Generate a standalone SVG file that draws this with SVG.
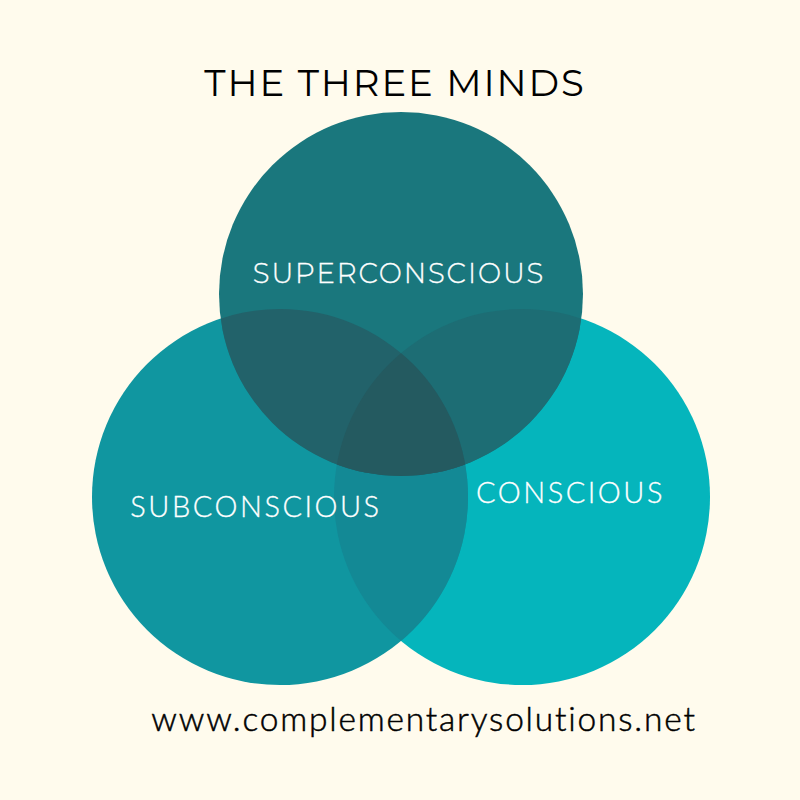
<svg xmlns="http://www.w3.org/2000/svg" width="800" height="800" viewBox="0 0 800 800">
<style>
text{text-anchor:middle}
.m{font-family:"Montserrat","Lato","Open Sans","Liberation Sans",sans-serif}
.a{font-family:"Lato","Open Sans","Liberation Sans",sans-serif}
.l{fill:#fff;stroke:#fff;stroke-width:.3;font-weight:300}
</style>
<defs>
<clipPath id="cSub"><circle cx="280" cy="497" r="188"/></clipPath>
<clipPath id="cSup"><circle cx="401" cy="294" r="182"/></clipPath>
</defs>
<rect width="800" height="800" fill="#fffbed"/>
<g id="conscious"><circle cx="522" cy="497" r="188" fill="#05b5bc"/></g>
<g id="subconscious"><circle cx="280" cy="497" r="188" fill="#1096a0"/><circle cx="522" cy="497" r="188" fill="#138995" clip-path="url(#cSub)"/></g>
<g id="superconscious"><circle cx="401" cy="294" r="182" fill="#1a777d"/>
<circle cx="522" cy="497" r="188" fill="#1d6d74" clip-path="url(#cSup)"/>
<circle cx="280" cy="497" r="188" fill="#22626a" clip-path="url(#cSup)"/>
<g clip-path="url(#cSup)"><circle cx="522" cy="497" r="188" fill="#245a60" clip-path="url(#cSub)"/></g></g>
<text class="m l" x="399" y="283" font-size="27.5" letter-spacing="1.9">SUPERCONSCIOUS</text>
<text class="a l" x="256" y="517" font-size="29" letter-spacing="2.5">SUBCONSCIOUS</text>
<text class="a l" x="570.5" y="503" font-size="29" letter-spacing="2.5">CONSCIOUS</text>
<text class="m" x="395" y="96" font-size="37" letter-spacing="1.9" fill="#000">THE THREE MINDS</text>
<text class="a" x="424" y="731" font-size="33.5" letter-spacing="1.8" font-weight="300" fill="#000" stroke="#000" stroke-width=".5">www.complementarysolutions.net</text>
</svg>
